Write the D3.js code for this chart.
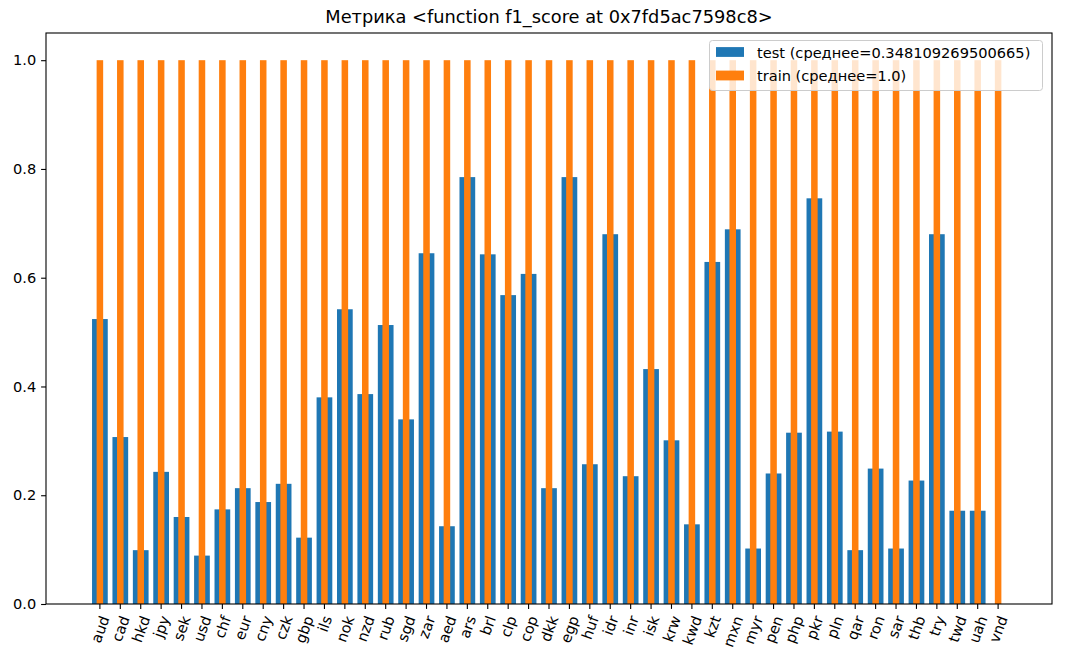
<!DOCTYPE html>
<html>
<head>
<meta charset="utf-8">
<script src="https://cdn.jsdelivr.net/npm/d3@7/dist/d3.min.js"></script>
<style>
html,body{margin:0;padding:0;background:#fff;}
svg{display:block;font-family:"DejaVu Sans",sans-serif;}
</style>
</head>
<body>
<svg id="chart" width="1068" height="655"></svg>
<script>
const categories = ["aud","cad","hkd","jpy","sek","usd","chf","eur","cny","czk","gbp","ils","nok","nzd","rub","sgd","zar","aed","ars","brl","clp","cop","dkk","egp","huf","idr","inr","isk","krw","kwd","kzt","mxn","myr","pen","php","pkr","pln","qar","ron","sar","thb","try","twd","uah","vnd"];
const testValues = [0.524,0.307,0.099,0.243,0.160,0.089,0.174,0.213,0.1875,0.221,0.122,0.380,0.542,0.386,0.513,0.3395,0.645,0.143,0.785,0.643,0.568,0.607,0.213,0.785,0.257,0.680,0.235,0.432,0.301,0.1465,0.629,0.689,0.102,0.240,0.315,0.746,0.317,0.099,0.249,0.102,0.227,0.680,0.1715,0.1715,0];
const trainValues = categories.map(() => 1.0);
const yTicks = [0.0,0.2,0.4,0.6,0.8,1.0];
const titleText = "Метрика <function f1_score at 0x7fd5ac7598c8>";
const legendLabels = ["test (среднее=0.348109269500665)", "train (среднее=1.0)"];

const svg = d3.select("#chart");
const L = 46, R = 1052, T = 33, B = 604;
const n = categories.length;
const x = d3.scaleLinear().domain([-2.64, n - 1 + 2.64]).range([L, R]);
const y = d3.scaleLinear().domain([0, 1.05]).range([B, T]);
const blue = "#1f77b4", orange = "#ff7f0e";
const bw = 0.77, ow = 0.32;
const unit = x(1) - x(0);
const fs = 14.6;

// bars
svg.append("g").selectAll("rect").data(testValues).join("rect")
  .attr("x", (d,i) => x(i) - bw*unit/2)
  .attr("width", bw*unit)
  .attr("y", d => y(d))
  .attr("height", d => B - y(d))
  .attr("fill", blue);
svg.append("g").selectAll("rect").data(trainValues).join("rect")
  .attr("x", (d,i) => x(i) - ow*unit/2)
  .attr("width", ow*unit)
  .attr("y", d => y(d))
  .attr("height", d => B - y(d))
  .attr("fill", orange);

// y axis
const yAxis = d3.axisLeft(y).tickValues(yTicks).tickFormat(d3.format(".1f")).tickSize(4.9).tickPadding(4.9);
const gy = svg.append("g").attr("transform", `translate(${L},0)`).call(yAxis);
gy.select(".domain").remove();
gy.selectAll("text").attr("font-size", fs).attr("fill", "#000").attr("font-family", "DejaVu Sans");
gy.selectAll("line").attr("stroke", "#000").attr("stroke-width", 1.1);

// x axis ticks
const gx = svg.append("g");
gx.selectAll("line").data(categories).join("line")
  .attr("x1", (d,i) => x(i)).attr("x2", (d,i) => x(i))
  .attr("y1", B).attr("y2", B + 4.9)
  .attr("stroke", "#000").attr("stroke-width", 1.1);
const labels = gx.selectAll("text.xl").data(categories).join("text")
  .attr("class", "xl")
  .attr("font-size", fs)
  .attr("fill", "#000")
  .attr("text-anchor", "middle")
  .attr("dominant-baseline", "central")
  .text(d => d);
const ang = 70 * Math.PI / 180;
labels.each(function(d, i) {
  const w = this.getComputedTextLength();
  const h = fs;
  const H = w * Math.sin(ang) + h * Math.cos(ang);
  const cx = x(i), cy = B + 9.8 + H / 2;
  d3.select(this).attr("x", cx).attr("y", cy).attr("transform", `rotate(-70,${cx},${cy})`);
});

// frame
svg.append("rect").attr("x", L).attr("y", T).attr("width", R - L).attr("height", B - T)
  .attr("fill", "none").attr("stroke", "#000").attr("stroke-width", 1.1);

// title
svg.append("text").attr("x", (L + R) / 2).attr("y", 23).attr("text-anchor", "middle")
  .attr("font-size", 17.8).attr("fill", "#000").text(titleText);

// legend
const lg = svg.append("g");
lg.append("rect").attr("x", 709.5).attr("y", 40.5).attr("width", 333).attr("height", 50)
  .attr("rx", 3).attr("fill", "#fff").attr("fill-opacity", 0.8).attr("stroke", "#ccc").attr("stroke-width", 1);
const colors = [blue, orange];
legendLabels.forEach((t, k) => {
  const cy = 52 + k * 23.5;
  lg.append("rect").attr("x", 716).attr("y", cy - 4.9).attr("width", 28).attr("height", 9.8).attr("fill", colors[k]);
  lg.append("text").attr("x", 757).attr("y", cy).attr("dominant-baseline", "central")
    .attr("font-size", fs).attr("fill", "#000").text(t);
});
</script>
</body>
</html>
